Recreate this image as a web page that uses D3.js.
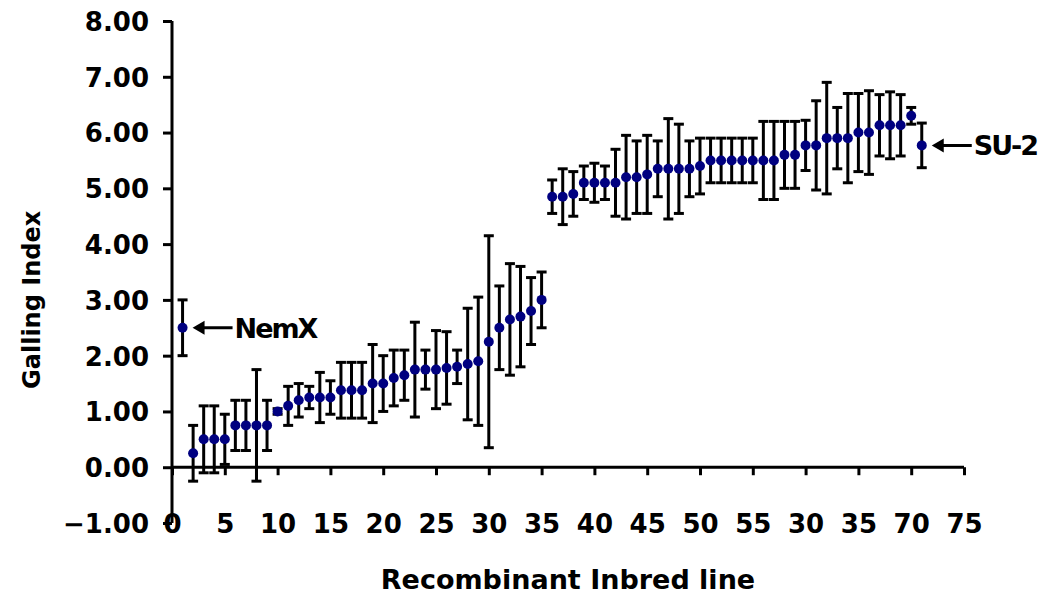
<!DOCTYPE html>
<html>
<head>
<meta charset="utf-8">
<script src="https://cdn.jsdelivr.net/npm/d3@7"></script>
<style>
  body { margin: 0; background: #fff; }
  svg text { font-family: "DejaVu Sans", sans-serif; font-weight: bold; fill: #000; }
</style>
</head>
<body>
<script>
// line number on the x axis (1 = NemX parent, 71 = SU-2 parent)
const lines = d3.range(1, 72)
// mean galling index per line
const galling = [
  2.50, 0.25, 0.50, 0.50, 0.50, 0.75, 0.75, 0.75, 0.75, 1.00,
  1.10, 1.20, 1.25, 1.25, 1.25, 1.38, 1.38, 1.38, 1.50, 1.50,
  1.60, 1.65, 1.75, 1.75, 1.75, 1.78, 1.80, 1.85, 1.90, 2.25,
  2.50, 2.65, 2.70, 2.80, 3.00, 4.85, 4.85, 4.90, 5.10, 5.10,
  5.10, 5.10, 5.20, 5.20, 5.25, 5.35, 5.35, 5.35, 5.35, 5.40,
  5.50, 5.50, 5.50, 5.50, 5.50, 5.50, 5.50, 5.60, 5.60, 5.77,
  5.77, 5.90, 5.90, 5.90, 6.00, 6.00, 6.13, 6.13, 6.13, 6.30,
  5.77
]
// error bar half-width per line
const errors = [
  0.50, 0.50, 0.60, 0.60, 0.45, 0.45, 0.45, 1.00, 0.45, 0.05,
  0.35, 0.30, 0.20, 0.45, 0.30, 0.50, 0.50, 0.50, 0.70, 0.50,
  0.50, 0.45, 0.85, 0.35, 0.70, 0.65, 0.30, 1.00, 1.15, 1.90,
  0.75, 1.00, 0.90, 0.60, 0.50, 0.30, 0.50, 0.40, 0.30, 0.35,
  0.30, 0.60, 0.75, 0.65, 0.70, 0.50, 0.90, 0.80, 0.50, 0.50,
  0.40, 0.40, 0.40, 0.40, 0.40, 0.70, 0.70, 0.60, 0.60, 0.45,
  0.80, 1.00, 0.55, 0.80, 0.70, 0.75, 0.55, 0.60, 0.55, 0.15,
  0.40
]
const xTicks = d3.range(0, 80, 5)
const xTickLabels = ["0", "5", "10", "15", "20", "25", "30", "35", "40", "45", "50", "55", "30", "35", "70", "75"]
const yTicks = d3.range(-1, 9)
const callouts = [
  {line: 1, label: "NemX"},
  {line: 71, label: "SU-2"}
]

const width = 1044, height = 597
const svg = d3.select("body").append("svg").attr("width", width).attr("height", height)

const x = d3.scaleLinear().domain([0, 75]).range([172, 964])
const y = d3.scaleLinear().domain([-1, 8]).range([523, 21])

// y axis
const yAxis = svg.append("g")
  .attr("transform", "translate(" + x(0) + ",0)")
  .call(d3.axisLeft(y).tickValues(yTicks).tickSize(9).tickPadding(14).tickFormat(d3.format(".2f")))
yAxis.select(".domain").attr("stroke-width", 3).attr("d", "M0," + y(8) + "V" + y(-1))
yAxis.selectAll(".tick line").attr("stroke-width", 3)
yAxis.selectAll(".tick text").style("font-size", "26px").attr("dy", "0.36em")
yAxis.selectAll(".tick text").text(d => d3.format(".2f")(d).replace("-", "\u2212"))

// x axis along the zero line, labels down at the bottom
const xAxis = svg.append("g")
  .attr("transform", "translate(0," + y(0) + ")")
  .call(d3.axisBottom(x).tickValues(xTicks).tickSize(8).tickFormat((d, i) => xTickLabels[i]))
xAxis.select(".domain").attr("stroke-width", 3).attr("d", "M" + x(0) + ",0H" + x(75))
xAxis.selectAll(".tick line").attr("stroke-width", 3)
xAxis.selectAll(".tick text")
  .style("font-size", "26px")
  .attr("y", y(-1) - y(0) + 10)
  .attr("dy", "0")

// axis titles
svg.append("text")
  .attr("transform", "translate(40," + y(3) + ") rotate(-90)")
  .attr("text-anchor", "middle")
  .style("font-size", "24px")
  .text("Galling Index")

svg.append("text")
  .attr("x", 568).attr("y", 589)
  .attr("text-anchor", "middle")
  .style("font-size", "27px")
  .text("Recombinant Inbred line")

// error bars
const bars = svg.append("g").attr("stroke", "#000").attr("stroke-width", 3)
lines.forEach((l, i) => {
  const top = y(galling[i] + errors[i]), bot = y(galling[i] - errors[i])
  bars.append("line").attr("x1", x(l)).attr("x2", x(l)).attr("y1", top).attr("y2", bot)
  bars.append("line").attr("x1", x(l) - 5).attr("x2", x(l) + 5).attr("y1", top).attr("y2", top)
  bars.append("line").attr("x1", x(l) - 5).attr("x2", x(l) + 5).attr("y1", bot).attr("y2", bot)
})

// points
svg.append("g").selectAll("circle")
  .data(lines)
  .enter()
  .append("circle")
  .attr("cx", d => x(d))
  .attr("cy", (d, i) => y(galling[i]))
  .attr("r", 5)
  .attr("fill", "#000080")

// parent call-outs
callouts.forEach(c => {
  const px = x(c.line) + 10, py = y(galling[c.line - 1])
  const g = svg.append("g")
  g.append("line").attr("x1", px + 8).attr("x2", px + 40).attr("y1", py).attr("y2", py)
    .attr("stroke", "#000").attr("stroke-width", 3)
  g.append("path")
    .attr("d", "M" + px + "," + py + "L" + (px + 12) + "," + (py - 7) + "L" + (px + 12) + "," + (py + 7) + "Z")
    .attr("fill", "#000")
  g.append("text")
    .attr("x", px + 42).attr("y", py + 10)
    .style("font-size", "27px")
    .style("letter-spacing", "-2px")
    .text(c.label)
})
</script>
</body>
</html>
